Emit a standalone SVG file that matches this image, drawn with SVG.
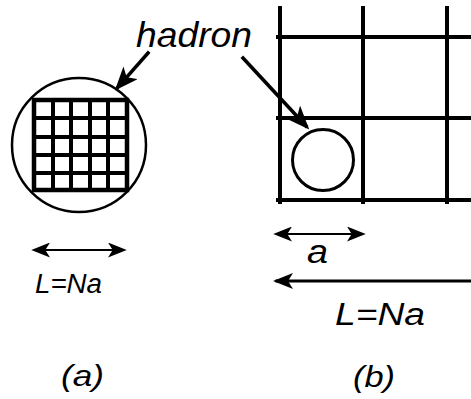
<svg xmlns="http://www.w3.org/2000/svg" width="471" height="399" viewBox="0 0 471 399">
<style>
.ln{stroke:#000;fill:none;stroke-linecap:square}
.t{font-family:"Liberation Sans",Arial,sans-serif;font-style:italic;fill:#000}
</style>
<defs>
<marker id="ah" markerUnits="userSpaceOnUse" viewBox="0 0 20 16" markerWidth="20" markerHeight="16" refX="16" refY="8" orient="auto-start-reverse">
<path d="M0,0 L20,8 L0,16 L5,8 z" fill="#000"/>
</marker>
<marker id="ahs" markerUnits="userSpaceOnUse" viewBox="0 0 20 16" markerWidth="19" markerHeight="15" refX="16" refY="8" orient="auto-start-reverse">
<path d="M0,0 L20,8 L0,16 L5,8 z" fill="#000"/>
</marker>
<marker id="ahb" markerUnits="userSpaceOnUse" viewBox="0 0 20 16" markerWidth="24" markerHeight="19" refX="16" refY="8" orient="auto-start-reverse">
<path d="M0,0 L20,8 L0,16 L5,8 z" fill="#000"/>
</marker>
</defs>
<g id="node-a">
<circle cx="79" cy="145" r="67" class="ln" stroke-width="2.5"/>
<g class="ln" stroke-width="4">
<rect x="34" y="100" width="93" height="90" stroke-width="4.5"/>
<path d="M53,100V190M71,100V190M90,100V190M108,100V190M34,118H127M34,137H127M34,155H127M34,173H127"/>
</g>
</g>
<g id="node-b">
<g class="ln" stroke-width="4" stroke-linecap="butt">
<path d="M280,8V202M363,8V202M447,8V202M278,37H471M278,118H471M278,200H471"/>
</g>
<circle cx="323" cy="160" r="30.5" class="ln" stroke-width="3"/>
</g>
<g id="labels">
<text class="t" x="136" y="47" font-size="35" textLength="116" lengthAdjust="spacingAndGlyphs">hadron</text>
<text class="t" x="35" y="293" font-size="27" textLength="67" lengthAdjust="spacingAndGlyphs">L=Na</text>
<text class="t" x="307" y="263" font-size="34" textLength="21" lengthAdjust="spacingAndGlyphs">a</text>
<text class="t" x="335" y="325" font-size="31" textLength="90" lengthAdjust="spacingAndGlyphs">L=Na</text>
<text class="t" x="61" y="386" font-size="30" textLength="43" lengthAdjust="spacingAndGlyphs">(a)</text>
<text class="t" x="353" y="387" font-size="30" textLength="42" lengthAdjust="spacingAndGlyphs">(b)</text>
</g>
<g id="connectors">
<line x1="148" y1="53" x2="118" y2="87" class="ln" stroke-width="3.5" stroke-linecap="butt" marker-end="url(#ahb)"/>
<line x1="243" y1="58" x2="306" y2="126" class="ln" stroke-width="3.5" stroke-linecap="butt" marker-end="url(#ahb)"/>
<line x1="35" y1="250" x2="123" y2="250" class="ln" stroke-width="2" stroke-linecap="butt" marker-start="url(#ahs)" marker-end="url(#ahs)"/>
<line x1="277" y1="234" x2="362" y2="234" class="ln" stroke-width="2" stroke-linecap="butt" marker-start="url(#ahs)" marker-end="url(#ahs)"/>
<line x1="471" y1="281" x2="277" y2="281" class="ln" stroke-width="3" stroke-linecap="butt" marker-end="url(#ah)"/>
</g>
</svg>
